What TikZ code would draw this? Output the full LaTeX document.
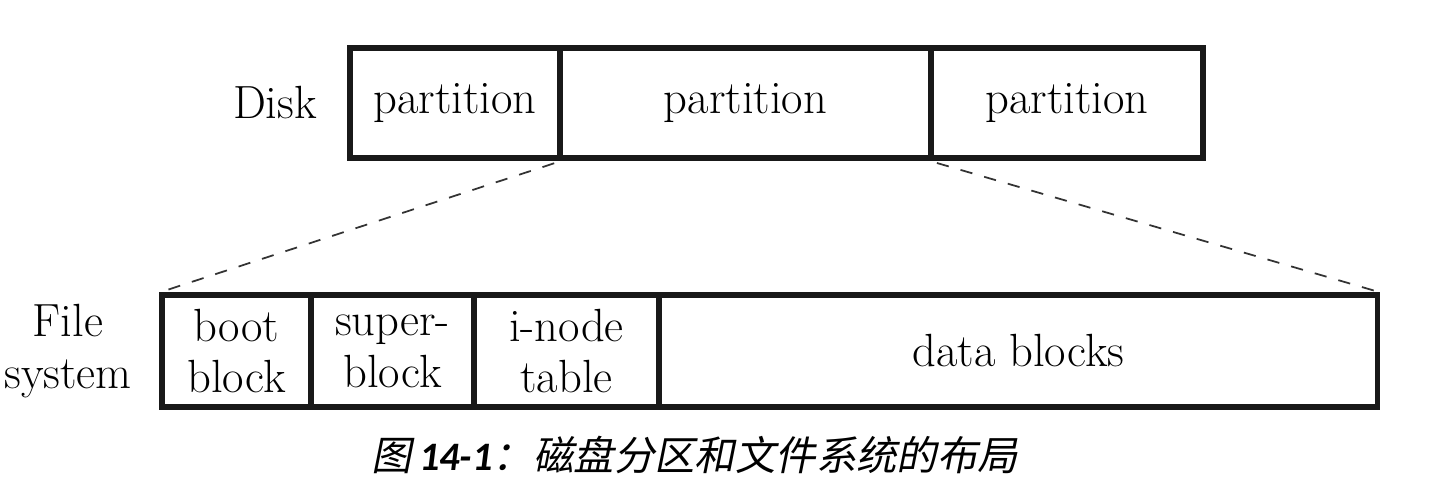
\documentclass[tikz,border=0pt]{standalone}
\usepackage{fontspec}
\usetikzlibrary{positioning}
\newfontfamily\cjk[FakeSlant=0.2]{Noto Sans CJK SC}
\newfontfamily\capnum{Carlito}
\def\rowtop{103}
\def\rowbot{351}

\begin{document}
\begin{tikzpicture}[x=0.02cm, y=-0.02cm, line join=miter]
    \tikzstyle{cell}=[rectangle, draw=black!90, line width=2.9pt, inner sep=0pt,
        align=center, font=\fontsize{26.5}{29.5}\selectfont]
    \tikzstyle{disk cell}=[cell, minimum height=2.2cm]
    \tikzstyle{fs cell}=[cell, minimum height=2.24cm]
    \tikzstyle{annot}=[align=center, font=\fontsize{26.5}{29.5}\selectfont]
    \tikzstyle{zoom}=[dashed, dash pattern=on 7pt off 7pt, line width=1pt, draw=black!80,
        shorten <=5pt, shorten >=4pt]

    \useasboundingbox (0,0) rectangle (1448,486);

    % Draw the disk row
    \foreach \name / \x / \w in {P1/455/4.2, P2/745.5/7.42, P3/1067/5.44}
        \node[disk cell, minimum width=\w cm] (\name) at (\x,\rowtop) {partition};
    \node[annot] (disk) at (275,\rowtop) {Disk};

    % Draw the file system row
    \foreach \name / \x / \w / \txt in {boot/236.5/2.98/{boot\\block},
                                        super/392.5/3.26/{super-\\block},
                                        inode/566.5/3.7/{i-node\\table},
                                        data/1018.5/14.38/{data blocks}}
        \node[fs cell, minimum width=\w cm] (\name) at (\x,\rowbot) {\txt};
    \node[annot] (fs) at (68,\rowbot) {File\\system};

    % Zoom lines from the partition to the file system
    \draw[zoom] (P1.south east) -- (boot.north west);
    \draw[zoom] (P3.south west) -- (data.north east);

    % Caption
    \node (caption) at (695,455) {\fontsize{23}{28}\selectfont\cjk 图\,{\capnum\bfseries\itshape 14-1}：磁盘分区和文件系统的布局};
\end{tikzpicture}
\end{document}
